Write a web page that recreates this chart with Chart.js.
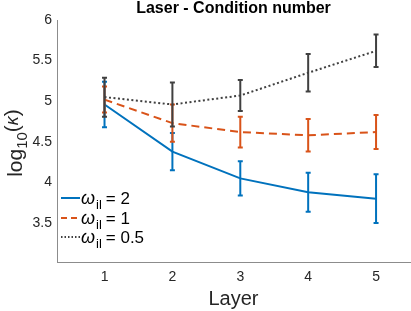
<!DOCTYPE html>
<html>
<head>
<meta charset="utf-8">
<script src="https://cdn.jsdelivr.net/npm/chart.js@4.4.1/dist/chart.umd.min.js"></script>
<style>
  body { margin: 0; background: #fff; }
  #wrap { width: 411px; height: 311px; }
</style>
</head>
<body>
<div id="wrap"><canvas id="chart" width="411" height="311"></canvas></div>
<script>
// values
const layers = [1, 2, 3, 4, 5];
const w2Mean = [4.96, 4.38, 4.05, 3.88, 3.80];
const w2Err = [0.28, 0.23, 0.21, 0.24, 0.30];
const w1Mean = [5.02, 4.73, 4.62, 4.58, 4.62];
const w1Err = [0.16, 0.23, 0.19, 0.20, 0.21];
const w05Mean = [5.05, 4.96, 5.07, 5.35, 5.62];
const w05Err = [0.24, 0.27, 0.19, 0.23, 0.20];
const yTicks = [3.5, 4, 4.5, 5, 5.5, 6];
const legendLabels = ['2', '1', '0.5'];
const titleText = 'Laser - Condition number';

const blue = '#0072BD';
const orange = '#D95319';
const gray = '#404040';
const textColor = '#262626';
const fam = '"Liberation Sans", Arial, sans-serif';

function pts(means) {
  return layers.map((l, i) => ({ x: l, y: means[i] }));
}

// error bars, drawn right after each dataset so overlap order stays the same
const errorBars = {
  id: 'errorBars',
  afterDatasetDraw(chart, args) {
    const ds = chart.data.datasets[args.index];
    const yScale = chart.scales.y;
    const ctx = chart.ctx;
    ctx.save();
    ctx.strokeStyle = ds.borderColor;
    ctx.lineWidth = 2;
    ctx.setLineDash([]);
    args.meta.data.forEach((pt, i) => {
      const m = ds.data[i].y;
      const top = yScale.getPixelForValue(m + ds.err[i]);
      const bot = yScale.getPixelForValue(m - ds.err[i]);
      ctx.beginPath();
      ctx.moveTo(pt.x, top);
      ctx.lineTo(pt.x, bot);
      ctx.moveTo(pt.x - 2.5, top);
      ctx.lineTo(pt.x + 2.5, top);
      ctx.moveTo(pt.x - 2.5, bot);
      ctx.lineTo(pt.x + 2.5, bot);
      ctx.stroke();
    });
    ctx.restore();
  }
};

// title over the plot area, y title with subscript, legend with ω_il labels
const extras = {
  id: 'extras',
  afterDraw(chart) {
    const ctx = chart.ctx;
    const area = chart.chartArea;
    ctx.save();

    // title, centred on the axes like the original
    ctx.fillStyle = '#000';
    ctx.font = 'bold 16px ' + fam;
    ctx.textAlign = 'center';
    ctx.textBaseline = 'middle';
    ctx.fillText(titleText, (area.left + area.right) / 2, 9);
    ctx.textAlign = 'left';
    ctx.textBaseline = 'alphabetic';

    // y axis title
    ctx.fillStyle = textColor;
    const big = '21px ' + fam;
    const small = '15px ' + fam;
    ctx.font = big;
    const wLog = ctx.measureText('log').width;
    const wPar = ctx.measureText('()').width;
    ctx.font = small;
    const wSub = ctx.measureText('10').width;
    ctx.font = 'italic 18px ' + fam;
    const wK = ctx.measureText('κ').width;
    const total = wLog + wSub + wPar + wK;
    ctx.translate(22, (area.top + area.bottom) / 2 + 2);
    ctx.rotate(-Math.PI / 2);
    let x = -total / 2;
    ctx.font = big;
    ctx.fillText('log', x, 0);
    x += wLog;
    ctx.font = small;
    ctx.fillText('10', x, 5);
    x += wSub;
    ctx.font = big;
    ctx.fillText('(', x, -3);
    x += ctx.measureText('(').width;
    ctx.font = 'italic 18px ' + fam;
    ctx.fillText('κ', x, -4);
    x += wK;
    ctx.font = big;
    ctx.fillText(')', x, -3);
    ctx.setTransform(1, 0, 0, 1, 0, 0);

    // legend
    const rows = [198, 218, 237];
    const styles = [
      { color: blue, dash: [] },
      { color: orange, dash: [6, 4] },
      { color: gray, dash: [1.5, 2] }
    ];
    rows.forEach((ry, i) => {
      ctx.strokeStyle = styles[i].color;
      ctx.lineWidth = 2;
      ctx.setLineDash(styles[i].dash);
      ctx.beginPath();
      ctx.moveTo(61, ry);
      ctx.lineTo(80, ry);
      ctx.stroke();
      ctx.setLineDash([]);
      ctx.fillStyle = '#000';
      let lx = 81;
      const base = ry + 6;
      ctx.font = 'italic 18px ' + fam;
      ctx.fillText('ω', lx, base);
      lx += ctx.measureText('ω').width + 1;
      ctx.font = '13px ' + fam;
      ctx.fillText('il', lx, base + 5);
      lx += ctx.measureText('il').width + 4;
      ctx.font = '17px ' + fam;
      ctx.fillText('= ' + legendLabels[i], lx, base);
    });
    ctx.restore();
  }
};

const ctx = document.getElementById('chart').getContext('2d');
new Chart(ctx, {
  type: 'line',
  data: {
    datasets: [
      {
        label: 'w2', data: pts(w2Mean), err: w2Err, order: 3,
        borderColor: blue, borderWidth: 2, pointRadius: 0, fill: false, tension: 0
      },
      {
        label: 'w1', data: pts(w1Mean), err: w1Err, order: 2,
        borderColor: orange, borderWidth: 2, borderDash: [8, 5], pointRadius: 0, fill: false, tension: 0
      },
      {
        label: 'w05', data: pts(w05Mean), err: w05Err, order: 1,
        borderColor: gray, borderWidth: 2, borderDash: [2, 2.5], pointRadius: 0, fill: false, tension: 0
      }
    ]
  },
  options: {
    responsive: false,
    animation: false,
    layout: { padding: { left: 0, right: 1, top: 20, bottom: 0 } },
    plugins: {
      legend: { display: false },
      tooltip: { enabled: false },
      title: { display: false }
    },
    scales: {
      x: {
        type: 'linear',
        min: 0.3,
        max: 5.5,
        afterBuildTicks: s => { s.ticks = layers.map(v => ({ value: v })); },
        afterFit: s => { s.height = 49; },
        grid: { display: false, drawTicks: false },
        border: { display: true, color: '#8c8c8c', width: 1 },
        ticks: {
          color: textColor, padding: 7,
          font: { family: fam, size: 14 }
        },
        title: {
          display: true, text: 'Layer', color: textColor,
          font: { family: fam, size: 20 },
          padding: { top: 0, bottom: 0 }
        }
      },
      y: {
        min: 3.02,
        max: 6,
        afterBuildTicks: s => { s.ticks = yTicks.map(v => ({ value: v })); },
        afterFit: s => { s.width = 57; },
        grid: { display: false, drawTicks: false },
        border: { display: true, color: '#8c8c8c', width: 1 },
        ticks: {
          color: textColor, padding: 5,
          font: { family: fam, size: 14 },
          callback: v => String(v)
        }
      }
    }
  },
  plugins: [errorBars, extras]
});
</script>
</body>
</html>
